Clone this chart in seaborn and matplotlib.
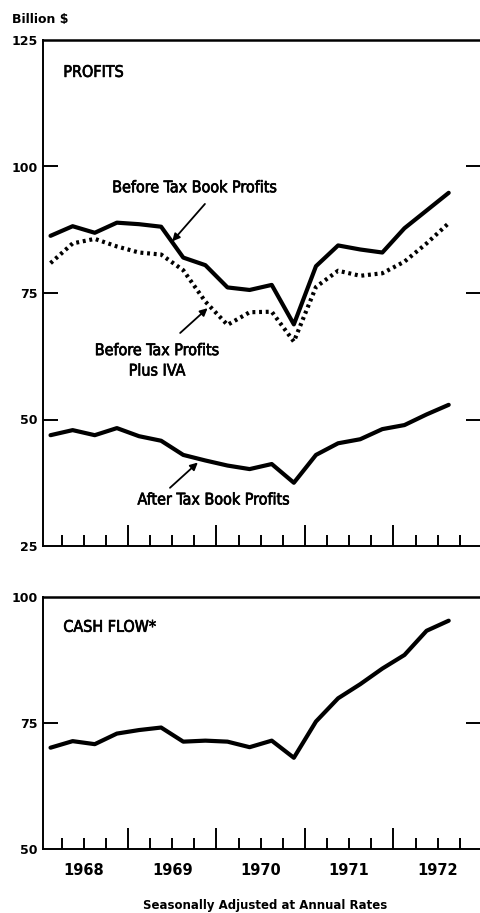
import matplotlib
matplotlib.use("Agg")
import matplotlib.pyplot as plt
import matplotlib.transforms as mtransforms
import matplotlib.patheffects as pe
import numpy as np
import pandas as pd
import seaborn as sns

# Quarterly series, 1968 Q1 - 1972 Q3, billions of dollars, seasonally adjusted annual rates
quarters = ["1968Q1", "1968Q2", "1968Q3", "1968Q4",
            "1969Q1", "1969Q2", "1969Q3", "1969Q4",
            "1970Q1", "1970Q2", "1970Q3", "1970Q4",
            "1971Q1", "1971Q2", "1971Q3", "1971Q4",
            "1972Q1", "1972Q2", "1972Q3"]
before_tax_book = [86.3, 88.2, 86.9, 88.9, 88.6, 88.1, 82.0, 80.5, 76.1, 75.6,
                   76.6, 68.8, 80.3, 84.4, 83.6, 83.0, 87.8, 91.3, 94.8]
before_tax_iva = [80.9, 84.8, 85.7, 84.2, 83.0, 82.6, 79.5, 73.3, 68.7, 71.2,
                  71.3, 65.4, 76.2, 79.4, 78.4, 78.9, 81.2, 84.8, 88.8]
after_tax_book = [46.9, 47.9, 46.9, 48.3, 46.7, 45.8, 43.0, 41.9, 40.9, 40.2,
                  41.2, 37.5, 43.0, 45.3, 46.1, 48.1, 48.9, 51.0, 52.9]
cash_flow = [70.1, 71.4, 70.8, 72.9, 73.6, 74.1, 71.3, 71.5, 71.3, 70.2,
             71.5, 68.1, 75.3, 79.9, 82.7, 85.8, 88.5, 93.3, 95.3]
years = [1968, 1969, 1970, 1971, 1972]
profit_ticks = [25, 50, 75, 100, 125]
cash_ticks = [50, 75, 100]

# mid-quarter positions on a decimal-year axis
xpos = [int(q[:4]) + (int(q[-1]) - 0.5) / 4 for q in quarters]
df = pd.DataFrame({
    "t": xpos,
    "before_book": before_tax_book,
    "before_iva": before_tax_iva,
    "after_book": after_tax_book,
    "cash": cash_flow,
})

sns.set_theme(style="white")
plt.rcParams["font.family"] = ["DejaVu Sans"]
plt.rcParams["text.color"] = "black"
plt.rcParams["xtick.color"] = "black"
plt.rcParams["ytick.color"] = "black"
plt.rcParams["axes.linewidth"] = 1.4

# condensed lettering, thickened slightly with a thin outline stroke
label_font = dict(family="DejaVu Sans", fontstretch="condensed", fontsize=11.5,
                  path_effects=[pe.withStroke(linewidth=0.5, foreground="black")])

W, H = 481, 913
fig = plt.figure(figsize=(W / 100, H / 100), dpi=100)
ax1 = fig.add_axes([43 / W, (H - 546) / H, 438 / W, 506 / H])
ax2 = fig.add_axes([43 / W, (H - 849) / H, 438 / W, 252 / H])

xlim = (1968.04, 1972.99)
quarter_edges = [y + k / 4 for y in range(1968, 1973) for k in range(1, 4)] + [1972.75]
year_edges = [1969, 1970, 1971, 1972]


def style_axes(ax, ylim, yticks):
    ax.set_xlim(*xlim)
    ax.set_ylim(*ylim)
    for side in ("left", "bottom", "top"):
        ax.spines[side].set_visible(True)
        ax.spines[side].set_color("black")
    ax.spines["right"].set_visible(False)
    ax.spines["top"].set_linewidth(1.8)
    ax.yaxis.remove_overlapping_locs = False
    ax.set_yticks(yticks)
    ax.set_yticklabels([str(v) for v in yticks], fontsize=9, fontweight="bold")
    inner = [v for v in yticks if ylim[0] < v < ylim[1]]
    ax.yaxis.set_minor_locator(matplotlib.ticker.FixedLocator(inner))
    ax.tick_params(axis="y", which="major", left=False, right=False, length=0, pad=4)
    ax.tick_params(axis="y", which="minor", left=True, right=True, direction="in",
                   length=11, width=1.4, color="black")
    ax.set_xticks(year_edges)
    ax.set_xticklabels([])
    ax.set_xticks([e for e in quarter_edges if e not in year_edges], minor=True)
    ax.tick_params(axis="x", which="major", bottom=True, direction="in",
                   length=15, width=1.4, color="black")
    ax.tick_params(axis="x", which="minor", bottom=True, direction="in",
                   length=8, width=1.4, color="black")
    ax.set_xlabel("")
    ax.set_ylabel("")
    ax.grid(False)


# profits panel
sns.lineplot(data=df, x="t", y="before_book", ax=ax1, color="black", lw=3.0)
sns.lineplot(data=df, x="t", y="before_iva", ax=ax1, color="black", lw=3.0,
             linestyle=(0, (0.7, 0.9)))
sns.lineplot(data=df, x="t", y="after_book", ax=ax1, color="black", lw=3.0)
style_axes(ax1, (25, 125), profit_ticks)

ax1.text(1968.27, 118.6, "PROFITS", ha="left", va="center", **label_font)

arrow = dict(arrowstyle="-|>", lw=1.3, color="black", mutation_scale=11,
             shrinkA=0, shrinkB=0)
ax1.text(1969.755, 95.8, "Before Tax Book Profits", ha="center", va="center", **label_font)
ax1.annotate("", xy=(1969.50, 85.2), xytext=(1969.87, 92.6), arrowprops=arrow)
ax1.text(1969.33, 61.6, "Before Tax Profits\nPlus IVA", ha="center", va="center",
         linespacing=1.45, **label_font)
ax1.annotate("", xy=(1969.90, 72.0), xytext=(1969.59, 67.1), arrowprops=arrow)
ax1.text(1969.97, 34.1, "After Tax Book Profits", ha="center", va="center", **label_font)
ax1.annotate("", xy=(1969.79, 41.5), xytext=(1969.475, 36.5), arrowprops=arrow)

# cash flow panel
sns.lineplot(data=df, x="t", y="cash", ax=ax2, color="black", lw=3.0)
style_axes(ax2, (50, 100), cash_ticks)
ax2.text(1968.27, 94.0, "CASH FLOW*", ha="left", va="center", **label_font)

# year labels centred under each year
trans = mtransforms.blended_transform_factory(ax2.transData, ax2.transAxes)
for y in years:
    ax2.text(y + 0.5, -0.085, str(y), transform=trans, ha="center", va="center",
             fontsize=10.5, fontweight="bold")

fig.text(12 / W, 1 - 20 / H, "Billion $", ha="left", va="center",
         fontsize=9, fontweight="bold")
fig.text(265 / W, 1 - 905 / H, "Seasonally Adjusted at Annual Rates", ha="center",
         va="center", fontsize=8.5, fontweight="bold")

fig.savefig("out.png", dpi=100)
